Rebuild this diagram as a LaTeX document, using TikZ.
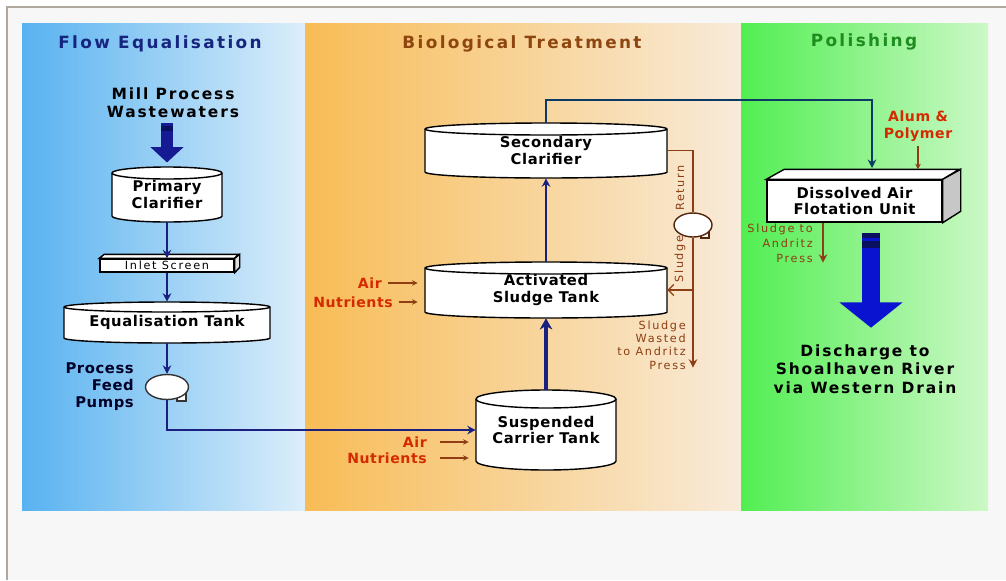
\documentclass[tikz,border=0pt]{standalone}
\usepackage{fontspec}
\setmainfont{DejaVu Sans}
\newfontfamily\titlefont{DejaVu Sans}[LetterSpace=14]
\newfontfamily\boxfont{DejaVu Sans}[LetterSpace=4]
\newfontfamily\widefont{DejaVu Sans}[LetterSpace=12]
\newfontfamily\notefont{DejaVu Sans}[LetterSpace=15]
\usetikzlibrary{arrows.meta,positioning,shapes.geometric,calc}

\definecolor{framebg}{HTML}{F7F7F7}
\definecolor{framegray}{HTML}{B0A89E}
\definecolor{eqblue}{HTML}{58B2F0}
\definecolor{eqpale}{HTML}{DCEEFA}
\definecolor{bioorange}{HTML}{F8BC56}
\definecolor{biopale}{HTML}{F8EBDA}
\definecolor{polgreen}{HTML}{52EE52}
\definecolor{polpale}{HTML}{CCF8C6}
\definecolor{navyline}{HTML}{1A2080}
\definecolor{titleblue}{HTML}{16267E}
\definecolor{titlebrown}{HTML}{8E4610}
\definecolor{titlegreen}{HTML}{1E8C1E}
\definecolor{sludgebrown}{HTML}{8E3E12}
\definecolor{dosered}{HTML}{D42A00}
\definecolor{flowblue}{HTML}{0A14D0}
\definecolor{flownavy}{HTML}{0A1060}

\tikzset{
  paneltitle/.style={font=\titlefont\bfseries\fontsize{12}{14}\selectfont},
  tanktext/.style={font=\boxfont\bfseries\fontsize{10.5}{11.5}\selectfont,align=center,inner sep=0pt},
  tankline/.style={draw=black,line width=1pt,fill=white},
  inkbox/.style={draw=black,line width=1pt,fill=white},
  bodytext/.style={font=\boxfont\bfseries\fontsize{10.5}{12.8}\selectfont,align=center,inner sep=0pt},
  widetext/.style={font=\widefont\bfseries\fontsize{11}{13}\selectfont,align=center,inner sep=0pt},
  dose/.style={font=\boxfont\bfseries\fontsize{10}{12}\selectfont,text=dosered,align=center,inner sep=0pt},
  smallnote/.style={font=\notefont\fontsize{8}{9.3}\selectfont,text=sludgebrown,inner sep=0pt},
  flowline/.style={draw=navyline,line width=1.6pt,-{Stealth[length=6pt,width=6pt]}},
  sludgeline/.style={draw=sludgebrown,line width=0.9pt},
  dosearrow/.style={draw=sludgebrown,line width=0.9pt,-{Stealth[length=4pt,width=4pt]}},
  pump/.style={ellipse,draw=black!80,line width=1pt,fill=white,inner sep=0pt},
  pumpout/.style={draw=black!80,line width=1pt,fill=white}
}

% tank: name, x, y, half width, half height, end radius, text
\newcommand\tank[7]{%
  \path[tankline] (#2-#4,#3+#5-#6) -- (#2-#4,#3-#5+#6)
    arc[start angle=180,end angle=360,x radius=#4,y radius=#6]
    -- (#2+#4,#3+#5-#6)
    arc[start angle=0,end angle=180,x radius=#4,y radius=#6] -- cycle;
  \draw[line width=1pt] (#2-#4,#3+#5-#6) arc[start angle=180,end angle=360,x radius=#4,y radius=#6];
  \node[tanktext,minimum width=#4*0.05cm,minimum height=#5*0.05cm] (#1) at (#2,#3) {#7};
}

\begin{document}
\begin{tikzpicture}[x=0.025cm,y=0.025cm]
\useasboundingbox (0,0) rectangle (1006,-580);
\fill[white] (0,0) rectangle (1006,-580);
\fill[framebg] (7,-7) rectangle (1006,-580);
\draw[framegray,line width=1.4pt] (7,-580) -- (7,-7) -- (1006,-7);

\shade[left color=eqblue,right color=eqpale] (22,-23) rectangle (305,-510);
\shade[left color=bioorange,right color=biopale] (305,-23) rectangle (741,-510);
\shade[left color=polgreen,right color=polpale] (741,-23) rectangle (988,-510);

\node[paneltitle,text=titleblue] (ttlflow) at (160,-44) {Flow Equalisation};
\node[paneltitle,text=titlebrown] (ttlbio) at (522,-44) {Biological Treatment};
\node[paneltitle,text=titlegreen] (ttlpol) at (864,-42) {Polishing};

% flow equalisation
\node[widetext] (mill) at (173,-103) {Mill Process\\Wastewaters};
\tank{prim}{167}{-194.5}{55}{27.5}{6}{Primary\\Clarifier}
\node[inkbox,minimum width=134*0.025cm,minimum height=13*0.025cm,inner sep=0pt,
  font=\notefont\fontsize{8}{9}\selectfont] (inlet) at (167,-265.5) {Inlet Screen};
\path[inkbox] (inlet.north west) -- ++(5,4) -- ++(134,0) -- (inlet.north east) -- cycle;
\path[inkbox,fill=black!12] (inlet.north east) -- ++(5,4) -- ++(0,-13) -- (inlet.south east) -- cycle;
\tank{equal}{167}{-322.5}{103}{20.5}{5}{Equalisation Tank}
\coordinate (pA) at (167,-387);
\path[pumpout] ($(pA)+(10,-14)$) rectangle ++(9,7);
\node[pump,minimum width=43*0.025cm,minimum height=25*0.025cm] (pumpA) at (pA) {};
\node[bodytext,align=right,anchor=east,text=black!85!blue,font=\boxfont\bfseries\fontsize{10.5}{12}\selectfont] (pflabel) at (134,-387) {Process\\Feed\\Pumps};

\draw[draw=navyline!85!blue,line width=8.5pt,shorten <=3.5pt,shorten >=3pt,-{Triangle[width=23pt,length=11pt]}] (prim.north |- mill.south) -- (prim.north);
\fill[flownavy] (161,-126) rectangle (173,-131);
\draw[flowline] (prim.south) -- (inlet.north);
\draw[flowline] (inlet.south) -- (equal.north);
\draw[flowline] (equal.south) -- (pumpA.north);

% biological treatment
\tank{susp}{546}{-430}{70}{40}{9}{Suspended\\Carrier Tank}
\tank{act}{546}{-290}{121}{28}{6}{Activated\\Sludge Tank}
\tank{sec}{546}{-150.5}{121}{27.5}{6}{Secondary\\Clarifier}
\draw[flowline] (pumpA.south) |- (susp.west);
\draw[flowline,line width=3pt,-{Stealth[length=8pt,width=9pt]}] (susp.north) -- (act.south);
\draw[flowline,line width=1.3pt] (act.north) -- (sec.south);

\node[dose,anchor=east] (airact) at (382,-283) {Air};
\node[dose,anchor=east] (nutact) at (393,-302) {Nutrients};
\node[dose,anchor=east] (airsusp) at (427,-442) {Air};
\node[dose,anchor=east] (nutsusp) at (427,-458) {Nutrients};
\draw[dosearrow,shorten <=4pt,shorten >=5pt] (airact) -- (airact -| act.west);
\draw[dosearrow,shorten <=4pt,shorten >=5pt] (nutact) -- (nutact -| act.west);
\draw[dosearrow,shorten <=9pt,shorten >=5pt] (airsusp) -- (airsusp -| susp.west);
\draw[dosearrow,shorten <=9pt,shorten >=5pt] (nutsusp) -- (nutsusp -| susp.west);

\coordinate (pB) at (693,-225);
\path[pumpout,draw=sludgebrown!60!black] ($(pB)+(8,-13)$) rectangle ++(8,7);
\node[pump,draw=sludgebrown!60!black,minimum width=38*0.025cm,minimum height=24*0.025cm] (pumpB) at (pB) {};
\draw[sludgeline] (sec.east) -| (pumpB.north);
\draw[sludgeline,-{Stealth[length=6pt,width=6pt]}] (pumpB.south) -- ++(0,-130);
\draw[sludgeline,-{Straight Barb[length=4pt,width=8pt]}] (pumpB.south |- act.east) -- (act.east);
\node[smallnote,rotate=90] (retlabel) at (680,-188) {Return};
\node[smallnote,rotate=90] (slulabel) at (680,-259) {Sludge};
\node[smallnote,align=right,anchor=north east] (waste) at (686,-321) {Sludge\\Wasted\\to Andritz\\Press};

% polishing
\node[bodytext,draw=black,line width=1pt,fill=white,font=\boxfont\bfseries\fontsize{10.5}{11.5}\selectfont,
  minimum width=175*0.025cm,minimum height=42*0.025cm] (daf) at (854.5,-201) {Dissolved Air\\Flotation Unit};
\path[inkbox] (daf.north west) -- ++(18,10) -- ++(175,0) -- (daf.north east) -- cycle;
\path[inkbox,fill=black!22] (daf.north east) -- ++(18,10) -- ++(0,-42) -- (daf.south east) -- cycle;

\coordinate (dafin) at (872,-100);
\draw[flowline,line width=1.3pt,draw=navyline!70!cyan!60!black] (sec.north) |- (dafin) -- ++(0,-68);

\node[dose] (alum) at (918,-126) {Alum \&\\Polymer};
\draw[dosearrow,shorten <=3pt] (alum.south) -- ($(alum.south |- daf.north)+(0,10)$);

\node[smallnote,align=right,anchor=north east,font=\notefont\fontsize{8}{10.5}\selectfont] (dafsludge) at (813,-224) {Sludge to\\Andritz\\Press};
\draw[dosearrow,-{Stealth[length=6pt,width=6pt]}] ($(daf.south)+(-31.5,0)$) -- ++(0,-40);

\coordinate (dafout) at ($(daf.south)+(16.5,-10)$);
\node[widetext] (dis) at (865,-369) {Discharge to\\Shoalhaven River\\via Western Drain};
\draw[draw=flowblue,line width=12.8pt,-{Triangle[width=44pt,length=18pt]}] (dafout) -- ++(0,-95);
\fill[flownavy] ($(dafout)+(-9,0)$) rectangle ++(18,-5);
\fill[flownavy] ($(dafout)+(-9,-8)$) rectangle ++(18,-7);
\end{tikzpicture}
\end{document}
